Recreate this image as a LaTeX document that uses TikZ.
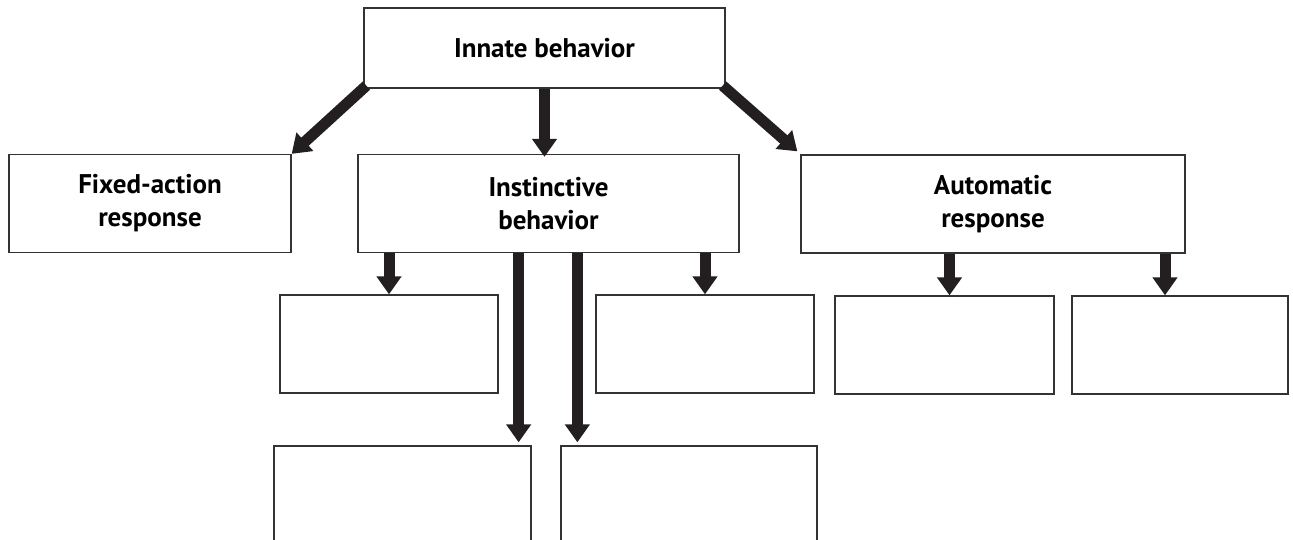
\documentclass[tikz,border=0pt]{standalone}
\usepackage{fontspec}
\setmainfont{PT Sans}
\usetikzlibrary{arrows.meta}
\definecolor{inkgray}{HTML}{231F20}

\begin{document}
\begin{tikzpicture}[x=1pt,y=-1pt,
    box/.style={draw=black!80, line width=1.3pt, inner sep=0pt, align=center,
        minimum height=98pt, font=\bfseries\fontsize{27}{33}\selectfont},
    bigarrow/.style={draw=inkgray, line width=11pt,
        -{Triangle[width=24pt,length=18pt]}}]
    \clip (0,0) rectangle (1293,539);
    % top level
    \node[box, minimum width=361pt, minimum height=80pt] (innate) at (544.5,48) {Innate behavior};
    % second level
    \node[box, minimum width=282pt] (fixed) at (150,203.5) {Fixed-action\\response};
    \node[box, minimum width=381pt] (instinct) at (548.5,203.5) {Instinctive\\behavior};
    \node[box, minimum width=384pt] (automatic) at (993,204) {Automatic\\response};
    % empty boxes
    \node[box, minimum width=218pt] (r2a) at (389,344) {};
    \node[box, minimum width=218pt] (r2b) at (705,344) {};
    \node[box, minimum width=219pt] (r2c) at (944.5,345) {};
    \node[box, minimum width=216pt] (r2d) at (1180,345) {};
    \node[box, minimum width=257pt] (r3a) at (402.5,495) {};
    \node[box, minimum width=256pt] (r3b) at (689,495) {};
    % arrows
    \draw[bigarrow] ([shift={(3,-3)}]innate.south west) -- (fixed.north east);
    \draw[bigarrow] (innate.south) -- ([yshift=-3]innate.south |- instinct.north);
    \draw[bigarrow] ([shift={(-3,-3)}]innate.south east) -- ([shift={(-3,-3)}]automatic.north west);
    \draw[bigarrow] (r2a.north |- instinct.south) -- (r2a.north);
    \draw[bigarrow] (r2b.north |- instinct.south) -- (r2b.north);
    \draw[bigarrow] ([xshift=-13]r3a.north east |- instinct.south) -- ([shift={(-13,-3)}]r3a.north east);
    \draw[bigarrow] ([xshift=17]r3b.north west |- instinct.south) -- ([shift={(17,-3)}]r3b.north west);
    \draw[bigarrow] ([xshift=5]r2c.north |- automatic.south) -- ([xshift=5]r2c.north);
    \draw[bigarrow] ([xshift=-15]r2d.north |- automatic.south) -- ([xshift=-15]r2d.north);
\end{tikzpicture}
\end{document}
